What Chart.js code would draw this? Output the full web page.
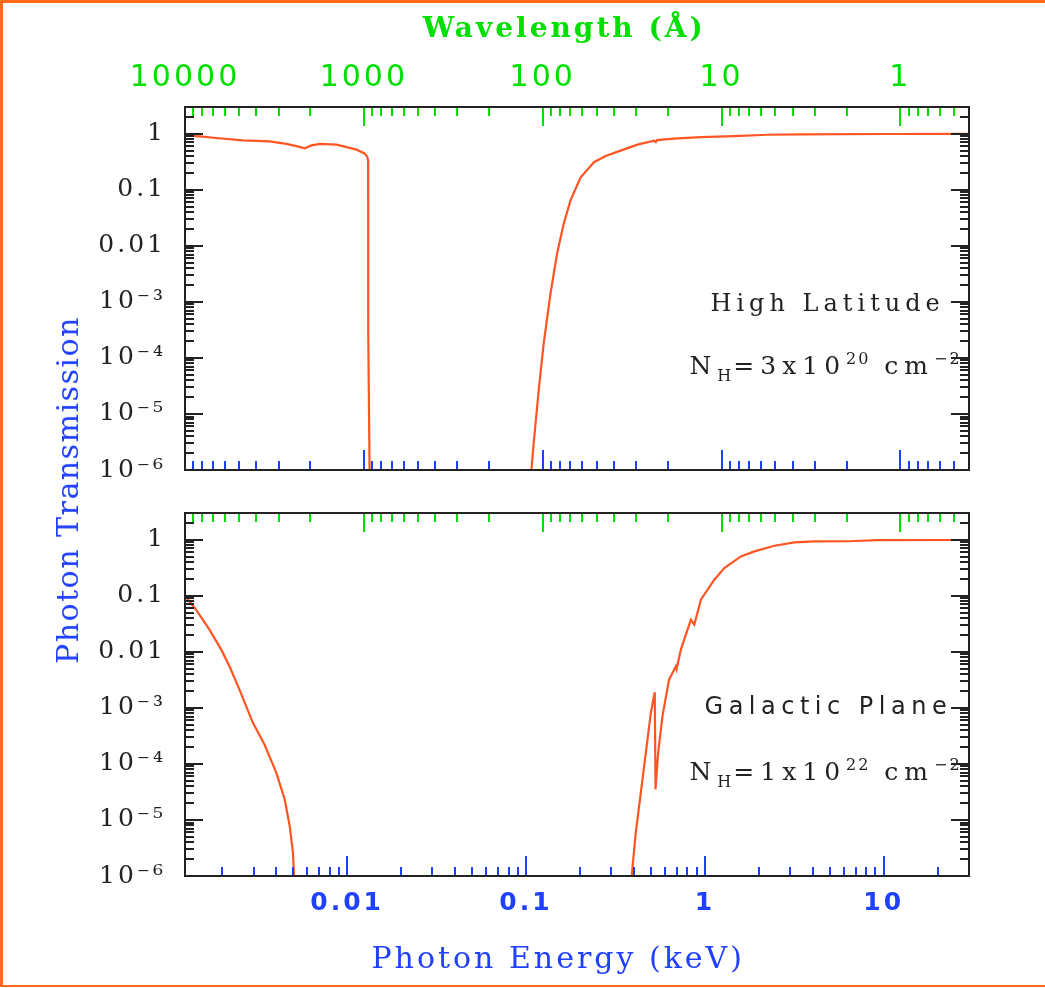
<!DOCTYPE html>
<html>
<head>
<meta charset="utf-8">
<title>Photon Transmission</title>
<script src="https://cdn.jsdelivr.net/npm/chart.js@4.4.1/dist/chart.umd.min.js"></script>
<style>
  html, body { margin: 0; padding: 0; background: #fff; }
  #figure { position: relative; width: 1045px; height: 988px; overflow: hidden; }
  #border {
    position: absolute; left: 0; top: 0; width: 1045px; height: 987px; box-sizing: border-box;
    border-left: 3px solid #ff6a1a; border-top: 3px solid #ff6a1a; border-bottom: 2px solid #ff6a1a;
  }
  canvas { position: absolute; left: 0; }
  #topPanel { top: 0; }
  #bottomPanel { top: 490px; }
  #yTitle {
    position: absolute; left: 68px; top: 490px;
    transform: translate(-50%, -50%) rotate(-90deg);
    font-family: 'DejaVu Serif'; font-size: 30px; line-height: 1;
    color: #2040ff; white-space: nowrap; letter-spacing: 1.5px;
  }
</style>
</head>
<body>
<div id="figure">
  <div id="border"></div>
  <canvas id="topPanel" width="1045" height="490"></canvas>
  <canvas id="bottomPanel" width="1045" height="498"></canvas>
  <div id="yTitle">Photon Transmission</div>
</div>
<script>
// energies in keV, transmission as a fraction; null breaks the line
const HC = 12.398; // keV * Angstrom

const hiLatEnergy = [0.00124, 0.0015, 0.00185, 0.00261, 0.00368, 0.00457, 0.0052, 0.00579, 0.00631, 0.00703,
  0.00873, 0.0113, 0.01256, 0.01294, 0.0131, 0.01312, 0.01335, 0.05,
  0.1072, 0.1104, 0.1178, 0.1256, 0.1371, 0.1493, 0.1626, 0.1774, 0.2018, 0.2399, 0.2786,
  0.338, 0.42, 0.52, 0.532, 0.54, 0.673, 0.951, 1.462, 2.249, 3.46, 10, 30];
const hiLatTrans = [0.93, 0.90, 0.84, 0.76, 0.73, 0.66, 0.60, 0.55, 0.62, 0.66,
  0.64, 0.52, 0.44, 0.39, 0.33, 2.8e-4, 1e-6, null,
  1e-6, 2.98e-6, 2.65e-5, 1.81e-4, 1.41e-3, 7.3e-3, 0.0249, 0.0647, 0.165, 0.31, 0.40,
  0.50, 0.64, 0.75, 0.71, 0.77, 0.815, 0.871, 0.908, 0.959, 0.977, 0.99, 0.995];

const galEnergy = [0.00124, 0.001429, 0.001698, 0.001977, 0.002198, 0.0025, 0.002972, 0.003451, 0.004018,
  0.004477, 0.004775, 0.004977, 0.005047, 0.05,
  0.39, 0.411, 0.4385, 0.4677, 0.4989, 0.5248, 0.53, 0.5483, 0.5794, 0.631, 0.6887, 0.695, 0.7345,
  0.8356, 0.873, 0.9506, 1.13, 1.285, 1.592, 1.892, 2.449, 3.17, 4.111, 6.324, 9.31, 30];
const galTrans = [0.1, 0.0565, 0.0249, 0.01094, 5.52e-3, 2.12e-3, 5.4e-4, 2.22e-4, 6.93e-5,
  2.32e-5, 7.74e-6, 2.6e-6, 1e-6, null,
  1e-6, 5.92e-6, 3.05e-5, 1.58e-4, 8.15e-4, 1.9e-3, 3.5e-5, 1.58e-4, 7.08e-4, 3.19e-3, 5.52e-3, 4.9e-3, 0.01094,
  0.0375, 0.0305, 0.0851, 0.1936, 0.3126, 0.5047, 0.619, 0.782, 0.895, 0.933, 0.94, 0.985, 0.99];

const energyTicks = [0.01, 0.1, 1, 10];
const wavelengthTicks = [10000, 1000, 100, 10, 1];
const transTicks = [1e-6, 1e-5, 1e-4, 1e-3, 0.01, 0.1, 1];

const E_MIN = HC / 10000, E_MAX = 30;
const T_MIN = 1e-6, T_MAX = 3;

const GREEN = '#00e000';
const BLUE = '#2040ff';
const INK = '#222222';
const ORANGE = '#ff5522';
const PLOT_LEFT = 185;

const SUP = { '-': '\u207b', '0': '\u2070', '1': '\u00b9', '2': '\u00b2', '3': '\u00b3',
  '4': '\u2074', '5': '\u2075', '6': '\u2076', '7': '\u2077', '8': '\u2078', '9': '\u2079' };

function transLabel(v) {
  const e = Math.round(Math.log10(v));
  if (e >= -2) return String(+v.toFixed(2));
  return '10' + String(e).split('').map(c => SUP[c]).join('');
}

// every k * 10^n inside [lo, hi]
function logSteps(lo, hi) {
  const out = [];
  for (let n = Math.floor(Math.log10(lo)); n <= Math.ceil(Math.log10(hi)); n++) {
    for (let k = 1; k <= 9; k++) {
      const v = k * Math.pow(10, n);
      if (v >= lo * 0.9999 && v <= hi * 1.0001) out.push({ v, major: k === 1 });
    }
  }
  return out;
}

// axis labels sit inside the frame, so no extra padding for them
function noPadding(s) {
  s.paddingTop = 0;
  s.paddingBottom = 0;
  s.paddingLeft = 0;
  s.paddingRight = 0;
}

function drawNote(ctx, chart, note) {
  const right = chart.scales.x.getPixelForValue(note.at[0]);
  const mid = chart.scales.y.getPixelForValue(note.at[1]);
  const runs = note.parts.map(([text, shift]) => {
    const size = shift ? Math.round(note.size * 0.62) : note.size;
    const gap = shift ? 2 : note.spacing;
    ctx.letterSpacing = gap + 'px';
    ctx.font = size + 'px ' + note.family;
    return { text, shift, size, gap, w: ctx.measureText(text).width };
  });
  const last = runs[runs.length - 1];
  let cx = right - runs.reduce((s, r) => s + r.w, 0) + last.gap;
  const base = mid + note.size * 0.36;
  ctx.fillStyle = INK;
  ctx.textAlign = 'left';
  ctx.textBaseline = 'alphabetic';
  runs.forEach(r => {
    ctx.letterSpacing = r.gap + 'px';
    ctx.font = r.size + 'px ' + note.family;
    const dy = r.shift < 0 ? note.size * 0.3 : r.shift > 0 ? -note.size * 0.4 : 0;
    ctx.fillText(r.text, cx, base + dy);
    cx += r.w;
  });
}

// PGPLOT-like frame: ticks on all four sides, frame box, text notes
const pgFrame = {
  id: 'pgFrame',
  beforeDraw(chart) {
    chart.ctx.letterSpacing = '3px';
  },
  afterDatasetsDraw(chart, args, opts) {
    const { ctx, chartArea: a } = chart;
    const x = chart.scales.x, y = chart.scales.y;
    ctx.save();
    ctx.letterSpacing = '0px';
    ctx.lineWidth = 2;

    ctx.strokeStyle = INK;
    ctx.beginPath();
    logSteps(T_MIN, T_MAX).forEach(t => {
      const py = Math.round(y.getPixelForValue(t.v));
      const len = t.major ? 18 : 9;
      ctx.moveTo(a.left, py); ctx.lineTo(a.left + len, py);
      ctx.moveTo(a.right, py); ctx.lineTo(a.right - len, py);
    });
    ctx.stroke();

    const lam = logSteps(HC / E_MAX, HC / E_MIN).map(t => ({ v: HC / t.v, major: t.major }));
    ctx.strokeStyle = GREEN;
    ctx.beginPath();
    lam.forEach(t => {
      const px = Math.round(x.getPixelForValue(t.v));
      ctx.moveTo(px, a.top); ctx.lineTo(px, a.top + (t.major ? 19 : 9));
    });
    ctx.stroke();

    const bottom = opts.bottomTicks === 'wavelength' ? lam : logSteps(E_MIN, E_MAX);
    ctx.strokeStyle = BLUE;
    ctx.beginPath();
    bottom.forEach(t => {
      const px = Math.round(x.getPixelForValue(t.v));
      ctx.moveTo(px, a.bottom); ctx.lineTo(px, a.bottom - (t.major ? 20 : 9));
    });
    ctx.stroke();

    ctx.strokeStyle = INK;
    ctx.strokeRect(a.left, a.top, a.right - a.left, a.bottom - a.top);
    ctx.restore();
  },
  afterDraw(chart, args, opts) {
    const ctx = chart.ctx;
    ctx.save();
    (opts.notes || []).forEach(n => drawNote(ctx, chart, n));
    ctx.restore();
    ctx.letterSpacing = '0px';
  }
};

function curve(energy, trans) {
  return {
    data: energy.map((e, i) => ({ x: e, y: trans[i] })),
    showLine: true,
    spanGaps: false,
    borderColor: ORANGE,
    borderWidth: 2.2,
    pointRadius: 0,
    tension: 0
  };
}

function transAxis() {
  return {
    type: 'logarithmic',
    position: 'left',
    min: T_MIN,
    max: T_MAX,
    afterBuildTicks: s => { s.ticks = transTicks.map(v => ({ value: v })); },
    afterFit: s => { s.width = PLOT_LEFT; noPadding(s); },
    grid: { display: false, drawTicks: false },
    border: { display: false },
    ticks: {
      autoSkip: false,
      padding: 19,
      color: INK,
      font: { family: 'DejaVu Serif', size: 25 },
      callback: v => transLabel(v)
    }
  };
}

const nhTop = [['N', 0], ['H', -1], ['=3x10', 0], ['20', 1], [' cm', 0], ['\u22122', 1]];
const nhBottom = [['N', 0], ['H', -1], ['=1x10', 0], ['22', 1], [' cm', 0], ['\u22122', 1]];

new Chart(document.getElementById('topPanel'), {
  type: 'scatter',
  data: { datasets: [curve(hiLatEnergy, hiLatTrans)] },
  options: {
    responsive: false,
    animation: false,
    devicePixelRatio: 1,
    layout: { autoPadding: false, padding: { left: 0, right: 76, top: 0, bottom: 20 } },
    plugins: {
      legend: { display: false },
      tooltip: { enabled: false },
      pgFrame: {
        bottomTicks: 'wavelength',
        notes: [
          { parts: [['High Latitude', 0]], family: "'DejaVu Serif'", size: 24, spacing: 5, at: [20.6, 1e-3] },
          { parts: nhTop, family: "'DejaVu Serif'", size: 25, spacing: 6, at: [26.6, 7.5e-5] }
        ]
      }
    },
    scales: {
      x: { type: 'logarithmic', min: E_MIN, max: E_MAX, display: false, afterFit: noPadding },
      xw: {
        type: 'logarithmic',
        position: 'top',
        reverse: true,
        min: HC / E_MAX,
        max: 10000,
        afterBuildTicks: s => { s.ticks = wavelengthTicks.map(v => ({ value: v })); },
        afterFit: s => { s.height = 107; noPadding(s); },
        grid: { display: false, drawTicks: false },
        border: { display: false },
        ticks: {
          autoSkip: false,
          maxRotation: 0,
          padding: 11,
          color: GREEN,
          font: { family: 'DejaVu Sans', size: 30 },
          callback: v => String(v)
        },
        title: {
          display: true,
          text: 'Wavelength (\u00c5)\u00a0\u00a0',
          color: GREEN,
          font: { family: 'DejaVu Serif', size: 28, weight: 'bold' },
          padding: { top: 13, bottom: 0 }
        }
      },
      y: transAxis()
    }
  },
  plugins: [pgFrame]
});

new Chart(document.getElementById('bottomPanel'), {
  type: 'scatter',
  data: { datasets: [curve(galEnergy, galTrans)] },
  options: {
    responsive: false,
    animation: false,
    devicePixelRatio: 1,
    layout: { autoPadding: false, padding: { left: 0, right: 76, top: 23, bottom: 0 } },
    plugins: {
      legend: { display: false },
      tooltip: { enabled: false },
      pgFrame: {
        bottomTicks: 'energy',
        notes: [
          { parts: [['Galactic Plane', 0]], family: "'DejaVu Sans'", size: 24, spacing: 5.5, at: [22.5, 1.1e-3] },
          { parts: nhBottom, family: "'DejaVu Serif'", size: 25, spacing: 6, at: [26.6, 7.6e-5] }
        ]
      }
    },
    scales: {
      x: {
        type: 'logarithmic',
        position: 'bottom',
        min: E_MIN,
        max: E_MAX,
        afterBuildTicks: s => { s.ticks = energyTicks.map(v => ({ value: v })); },
        afterFit: s => { s.height = 112; noPadding(s); },
        grid: { display: false, drawTicks: false },
        border: { display: false },
        ticks: {
          autoSkip: false,
          maxRotation: 0,
          padding: 12,
          color: BLUE,
          font: { family: 'DejaVu Sans', size: 25, weight: 'bold' },
          callback: v => String(v)
        },
        title: {
          display: true,
          text: 'Photon Energy (keV)\u00a0\u00a0\u00a0',
          color: BLUE,
          font: { family: 'DejaVu Serif', size: 30 },
          padding: { top: 0, bottom: 10 }
        }
      },
      y: transAxis()
    }
  },
  plugins: [pgFrame]
});
</script>
</body>
</html>
